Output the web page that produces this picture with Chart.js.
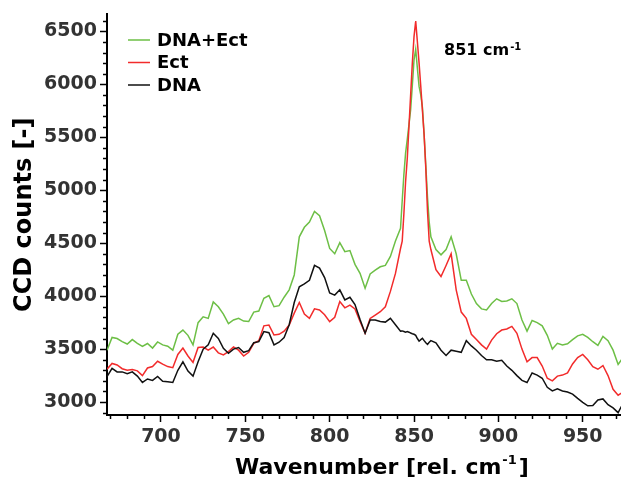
<!DOCTYPE html>
<html>
<head>
<meta charset="utf-8">
<script src="https://cdn.jsdelivr.net/npm/chart.js@4.4.0/dist/chart.umd.min.js"></script>
<style>
html,body{margin:0;padding:0;background:#fff;}
#wrap{width:621px;height:478px;position:relative;}
</style>
</head>
<body>
<div id="wrap"><canvas id="chart"></canvas></div>
<script>
// wavenumber grid (rel. cm-1), finer around the 851 peak
const wavenumbers=[668,671,674,677,680,683,686,689,692,695,698,701,704,707,710,713,716,719,722,725,728,731,734,737,740,743,746,749,752,755,758,761,764,767,770,773,776,779,782,785,788,791,794,797,800,803,806,809,812,815,818,821,824,827,830,833,836,839,
842,843,844,845,846,847,848,849,850,851,852,853,854,855,856,857,858,859,860,
863,866,869,872,875,878,881,884,887,890,893,896,899,902,905,908,911,914,917,920,923,926,929,932,935,938,941,944,947,950,953,956,959,962,965,968,971,973];

const dnaEct=[3490,3610,3600,3570,3548,3590,3555,3525,3553,3510,3568,3540,3528,3490,3640,3680,3630,3540,3750,3805,3790,3945,3900,3830,3740,3775,3790,3765,3760,3850,3860,3980,4005,3900,3910,3990,4060,4200,4560,4650,4700,4800,4760,4620,4450,4400,4505,4420,4430,4300,4215,4075,4210,4245,4277,4290,4375,4520,
4640,4900,5150,5350,5480,5620,5760,5990,6230,6330,6150,5980,5900,5780,5520,5230,4930,4700,4560,
4440,4390,4440,4560,4400,4150,4150,4020,3930,3880,3870,3930,3975,3950,3955,3975,3930,3775,3670,3770,3750,3720,3630,3500,3555,3540,3550,3590,3625,3640,3610,3570,3535,3620,3580,3490,3355,3400];

const ect=[3310,3365,3350,3315,3300,3308,3295,3250,3322,3335,3385,3358,3335,3325,3450,3510,3435,3375,3515,3520,3490,3520,3465,3445,3476,3520,3490,3435,3470,3555,3580,3720,3727,3633,3640,3670,3727,3840,3940,3830,3790,3880,3870,3825,3760,3800,3950,3890,3915,3880,3760,3650,3790,3822,3853,3900,4045,4215,
4450,4520,4780,5080,5300,5600,5900,6200,6450,6598,6400,6200,5980,5750,5520,5200,4800,4520,4440,
4250,4185,4290,4400,4060,3850,3790,3640,3590,3540,3500,3585,3645,3680,3690,3715,3650,3500,3380,3420,3420,3340,3225,3200,3245,3255,3275,3360,3420,3450,3400,3335,3310,3345,3250,3120,3065,3085];

const dna=[3240,3318,3285,3285,3268,3285,3245,3185,3218,3205,3242,3196,3192,3185,3300,3380,3292,3245,3380,3500,3540,3650,3600,3508,3461,3500,3515,3470,3485,3560,3570,3665,3655,3540,3565,3610,3730,3940,4088,4115,4150,4290,4265,4175,4030,4010,4060,3965,3990,3920,3780,3650,3775,3775,3760,3755,3790,3730,
3670,3672,3666,3660,3665,3660,3652,3645,3640,3630,3600,3575,3590,3602,3580,3560,3545,3565,3580,
3560,3490,3440,3490,3480,3470,3580,3530,3490,3440,3400,3400,3385,3395,3340,3300,3250,3205,3185,3275,3255,3225,3140,3105,3125,3105,3095,3075,3035,2998,2965,2968,3020,3030,2975,2945,2900,2960];

const seriesNames=['DNA+Ect','Ect','DNA'];
const seriesColors=['#6dbf46','#f22b2b','#111111'];
const xTicks=[700,750,800,850,900,950];
const yTicks=[3000,3500,4000,4500,5000,5500,6000,6500];
const xMinorStep=10, yMinorStep=100;

const FONT='"DejaVu Sans", sans-serif';

function toPoints(vals){return wavenumbers.map((w,i)=>({x:w,y:vals[i]}));}

const decor={
  id:'decor',
  afterDraw(chart){
    const ctx=chart.ctx, xs=chart.scales.x, ys=chart.scales.y, a=chart.chartArea;
    ctx.save();
    ctx.strokeStyle='#000';ctx.lineWidth=1.5;
    // minor ticks
    for(let v=Math.ceil(xs.min/xMinorStep)*xMinorStep;v<=xs.max;v+=xMinorStep){
      if(v%50===0) continue;
      const px=Math.round(xs.getPixelForValue(v))+0.5;
      ctx.beginPath();ctx.moveTo(px,a.bottom);ctx.lineTo(px,a.bottom+4);ctx.stroke();
    }
    for(let v=Math.ceil(ys.min/yMinorStep)*yMinorStep;v<=ys.max;v+=yMinorStep){
      if(v%500===0) continue;
      const py=Math.round(ys.getPixelForValue(v))+0.5;
      ctx.beginPath();ctx.moveTo(a.left,py);ctx.lineTo(a.left-4,py);ctx.stroke();
    }
    // legend
    ctx.font='bold 18px '+FONT;
    ctx.textBaseline='middle';ctx.textAlign='left';
    chart.data.datasets.forEach((ds,i)=>{
      const y=40+i*22.5;
      ctx.strokeStyle=ds.borderColor;ctx.lineWidth=1.5;
      ctx.beginPath();ctx.moveTo(128,y);ctx.lineTo(150,y);ctx.stroke();
      ctx.fillStyle='#000';
      ctx.fillText(ds.label,157,y+1);
    });
    // peak annotation
    ctx.textBaseline='alphabetic';
    ctx.font='bold 16px '+FONT;
    ctx.fillText('851 cm',444,54.5);
    let w=ctx.measureText('851 cm').width;
    ctx.font='bold 10px '+FONT;
    ctx.fillText('-1',444+w+1,49.5);
    // x title
    ctx.font='bold 22px '+FONT;
    const t1='Wavenumber [rel. cm';
    ctx.fillText(t1,235,474);
    w=ctx.measureText(t1).width;
    ctx.font='bold 13px '+FONT;
    ctx.fillText('-1',235+w+1,464);
    const w2=ctx.measureText('-1').width;
    ctx.font='bold 22px '+FONT;
    ctx.fillText(']',235+w+w2+3,474);
    ctx.restore();
  }
};

new Chart(document.getElementById('chart'),{
  type:'line',
  data:{
    datasets:[
      {label:seriesNames[0],data:toPoints(dnaEct),borderColor:seriesColors[0],order:3},
      {label:seriesNames[1],data:toPoints(ect),borderColor:seriesColors[1],order:2},
      {label:seriesNames[2],data:toPoints(dna),borderColor:seriesColors[2],order:1}
    ]
  },
  options:{
    responsive:true,maintainAspectRatio:false,animation:false,
    layout:{padding:{top:13,right:0,left:0,bottom:0}},
    elements:{point:{radius:0},line:{borderWidth:1.5,tension:0}},
    plugins:{legend:{display:false},tooltip:{enabled:false}},
    scales:{
      x:{
        type:'linear',min:668,max:972.7,
        afterBuildTicks:s=>{s.ticks=xTicks.map(v=>({value:v}));},
        afterFit:s=>{s.height=63;},
        border:{display:true,color:'#000',width:2},
        grid:{display:true,drawOnChartArea:false,drawTicks:true,tickLength:7,tickColor:'#000',tickWidth:1.5},
        ticks:{color:'#333',font:{family:FONT,weight:'bold',size:19},padding:4,maxRotation:0,callback:v=>String(v)}
      },
      y:{
        min:2878,max:6660,
        afterBuildTicks:s=>{s.ticks=yTicks.map(v=>({value:v}));},
        afterFit:s=>{s.width=107;},
        border:{display:true,color:'#000',width:2},
        grid:{display:true,drawOnChartArea:false,drawTicks:true,tickLength:7,tickColor:'#000',tickWidth:1.5},
        ticks:{color:'#333',font:{family:FONT,weight:'bold',size:19},padding:3,callback:v=>String(v)},
        title:{display:true,text:'CCD counts [-]',color:'#000',font:{family:FONT,weight:'bold',size:24},padding:{top:10,bottom:0}}
      }
    }
  },
  plugins:[decor]
});
</script>
</body>
</html>
